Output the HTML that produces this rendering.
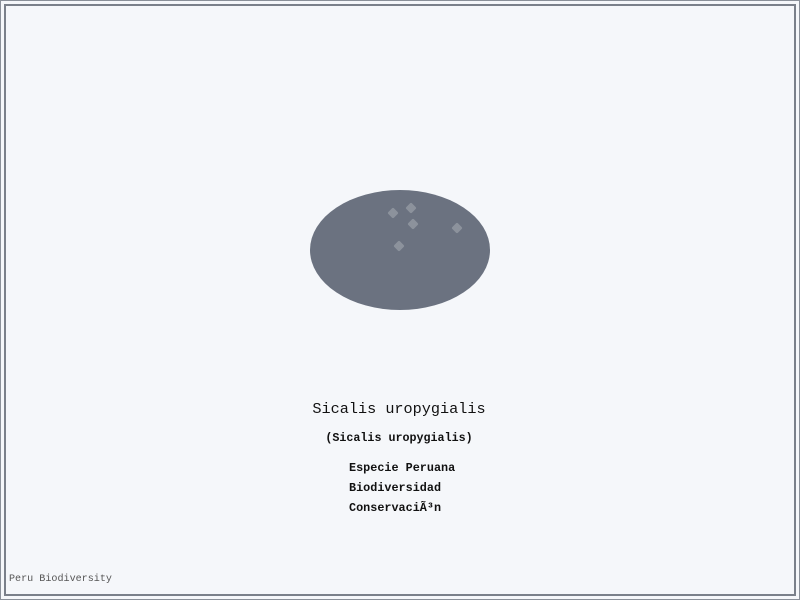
<!DOCTYPE html>
<html><head><meta charset="utf-8"><style>
html,body{margin:0;padding:0;background:#f5f7fa;}
#wrap{position:relative;width:800px;height:600px;overflow:hidden;}
svg text{font-family:"Liberation Mono","DejaVu Sans Mono",monospace;fill:#111;}
</style></head><body>
<div id="wrap">
<svg width="800" height="600" viewBox="0 0 800 600" id="chart">
  <rect x="0.5" y="0.5" width="799" height="599" fill="#f5f7fa" stroke="#8a9099" stroke-width="1"/>
  <rect x="5" y="5" width="790" height="590" fill="#f5f7fa" stroke="#7a808a" stroke-width="2"/>
  <ellipse cx="400" cy="250" rx="90" ry="60" fill="#6b7280"/>
  <g id="points"></g>
  <text x="399" y="413" font-size="15.2" text-anchor="middle">Sicalis uropygialis</text>
  <text x="399" y="441" font-size="11.7" font-weight="bold" text-anchor="middle">(Sicalis uropygialis)</text>
  <text x="349" y="471" font-size="11.8" font-weight="bold">Especie Peruana</text>
  <text x="349" y="491" font-size="11.8" font-weight="bold">Biodiversidad</text>
  <text x="349" y="511" font-size="11.8" font-weight="bold">ConservaciÃ³n</text>
  <text x="9" y="581" font-size="10.1" style="fill:#555">Peru Biodiversity</text>
</svg>
</div>
<script>
const pointX = [393, 411, 413, 457, 399];
const pointY = [213, 208, 224, 228, 246];
const g = document.getElementById('points');
for (let i = 0; i < pointX.length; i++) {
  const r = document.createElementNS('http://www.w3.org/2000/svg', 'rect');
  r.setAttribute('x', pointX[i] - 4);
  r.setAttribute('y', pointY[i] - 4);
  r.setAttribute('width', 8);
  r.setAttribute('height', 8);
  r.setAttribute('rx', 1.5);
  r.setAttribute('fill', '#8c929c');
  r.setAttribute('transform', 'rotate(45 ' + pointX[i] + ' ' + pointY[i] + ')');
  
  
  g.appendChild(r);
}
</script>
</body></html>
